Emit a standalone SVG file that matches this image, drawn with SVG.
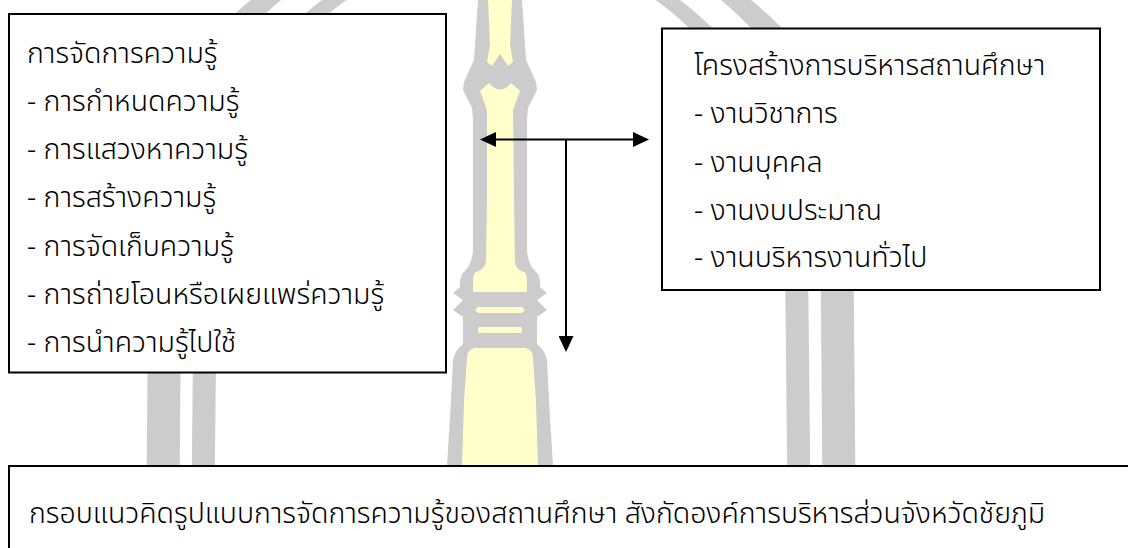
<svg xmlns="http://www.w3.org/2000/svg" width="1128" height="548" viewBox="0 0 1128 548">
  <style>
    .box { fill: #ffffff; stroke: #000000; stroke-width: 2; }
    .txt { font-family: "Noto Sans Thai", "Leelawadee UI", Tahoma, "Noto Sans", "DejaVu Sans", sans-serif; font-size: 28.5px; font-weight: 300; fill: #000000; }
    .wm-gray { fill: #cccccc; }
    .wm-yellow { fill: #ffffcc; }
    .conn { fill: none; stroke: #000000; stroke-width: 2; }
  </style>
  <defs>
    <marker id="head" markerUnits="userSpaceOnUse" viewBox="0 0 16 15" markerWidth="16" markerHeight="15" refX="6" refY="7.5" orient="auto-start-reverse">
      <path d="M0,0 L16,7.5 L0,15 Z" fill="#000000"/>
    </marker>
  </defs>

  <rect width="1128" height="548" fill="#ffffff"/>

  <!-- background emblem: double arch with central spire -->
  <g id="emblem">
    <path class="wm-gray" fill-rule="evenodd" d="M146,548 L149,197 A352,280 0 0 1 853,197 L856,548 Z M179,548 L182,197 A319,272 0 0 1 820,197 L823,548 Z"/>
    <path class="wm-gray" fill-rule="evenodd" d="M191,548 L194,260 A307,320 0 0 1 808,260 L811,548 Z M214,548 L217,260 A284,310 0 0 1 785,260 L788,548 Z"/>
    <!-- spire outline -->
    <path class="wm-gray" d="M478,0 L522,0 L525,45 L526,60 L536,82 L537,90 L528,108 L527,120 L527,250
      Q528,266 538,274 L540,280 L540,287 L547,293 L537,300 L547,310 L537,317 L537,344
      Q545,350 547,360 L549,400 L553,466 L556,548 L444,548 L447,466 L451,400 L453,360
      Q455,350 463,344 L463,317 L453,310 L463,300 L453,293 L460,287 L460,280 L462,274
      Q472,266 473,250 L473,120 L472,108 L463,90 L464,82 L474,60 L475,45 Z"/>
    <!-- spire inner fill -->
    <path class="wm-yellow" d="M488,0 L512,0 L510,45 L513,62 L508,66 L500,54 L492,66 L487,62 L490,45 Z"/>
    <path class="wm-yellow" d="M480,91 L489,83 Q500,96 511,83 L520,91 L513,110 L514,200 L515,262
      Q516,270 524,272 Q527,274 527,280 L527,292 L473,292 L473,280 Q473,274 476,272 Q484,270 486,262 L487,200 L487,110 Z"/>
    <path class="wm-yellow" d="M478,307 L522,307 L525,310 L522,313 L478,313 L475,310 Z"/>
    <path class="wm-yellow" d="M478,327 L522,327 L522,333 L478,333 Z"/>
    <path class="wm-yellow" d="M474,348 L526,348 Q533,350 533,358 L536,400 L538,466 L540,548 L460,548 L462,466 L464,400 L467,358 Q467,350 474,348 Z"/>
  </g>

  <!-- connectors -->
  <g id="connectors">
    <path class="conn" d="M490,139.5 L639,139.5" marker-start="url(#head)" marker-end="url(#head)"/>
    <path class="conn" d="M566,139.5 L566,342" marker-end="url(#head)"/>
  </g>

  <g id="knowledge-management">
    <rect class="box" x="9" y="14" width="437" height="358.5"/>
    <text class="txt" x="27" y="63">การจัดการความรู้</text>
    <text class="txt" x="27" y="111">- การกำหนดความรู้</text>
    <text class="txt" x="27" y="159">- การแสวงหาความรู้</text>
    <text class="txt" x="27" y="207">- การสร้างความรู้</text>
    <text class="txt" x="27" y="256">- การจัดเก็บความรู้</text>
    <text class="txt" x="27" y="304">- การถ่ายโอนหรือเผยแพร่ความรู้</text>
    <text class="txt" x="27" y="352">- การนำความรู้ไปใช้</text>
  </g>

  <g id="school-administration">
    <rect class="box" x="662" y="28.5" width="438" height="261.5"/>
    <text class="txt" x="694" y="75">โครงสร้างการบริหารสถานศึกษา</text>
    <text class="txt" x="694" y="123">- งานวิชาการ</text>
    <text class="txt" x="694" y="172">- งานบุคคล</text>
    <text class="txt" x="694" y="220">- งานงบประมาณ</text>
    <text class="txt" x="694" y="267">- งานบริหารงานทั่วไป</text>
  </g>

  <g id="framework-title">
    <rect class="box" x="9" y="466" width="1130" height="100"/>
    <text class="txt" x="29" y="523">กรอบแนวคิดรูปแบบการจัดการความรู้ของสถานศึกษา สังกัดองค์การบริหารส่วนจังหวัดชัยภูมิ</text>
  </g>
</svg>
